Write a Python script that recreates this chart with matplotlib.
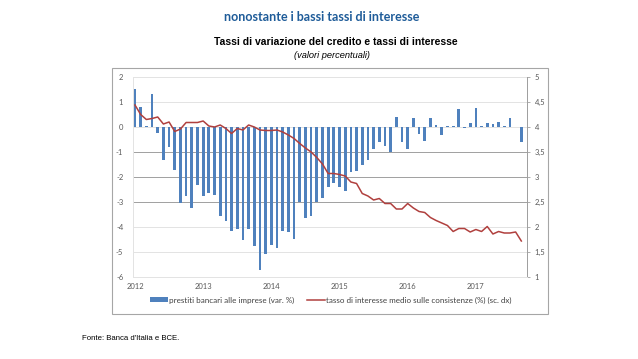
import matplotlib
matplotlib.use("Agg")
import matplotlib.pyplot as plt
from matplotlib.patches import Rectangle
import numpy as np

plt.rcParams['axes.unicode_minus'] = False

# dati mensili gen 2012 - set 2017
prestiti = [1.53, 0.82, 0.05, 1.33, -0.25, -1.3, -0.8, -1.73, -3.04, -2.74, -3.24, -2.3,
            -2.76, -2.62, -2.7, -3.56, -3.74, -4.17, -4.07, -4.5, -4.07, -4.77, -5.73, -5.06,
            -4.7, -4.83, -4.14, -4.2, -4.47, -3.0, -3.63, -3.55, -3.0, -2.83, -2.4, -2.25,
            -2.4, -2.57, -1.78, -1.77, -1.5, -1.3, -0.87, -0.61, -0.77, -1.0, 0.4, -0.58,
            -0.86, 0.36, -0.29, -0.54, 0.38, 0.09, -0.33, 0.03, 0.03, 0.72, -0.02, 0.16,
            0.75, 0.03, 0.16, 0.12, 0.2, 0.03, 0.36, 0.02, -0.58]
tasso = [4.44, 4.25, 4.15, 4.17, 4.2, 4.06, 4.1, 3.91, 3.96, 4.09, 4.09, 4.09,
         4.12, 4.02, 4.0, 4.04, 3.97, 3.87, 3.97, 3.94, 4.04, 4.0, 3.94, 3.93,
         3.93, 3.94, 3.9, 3.84, 3.77, 3.67, 3.58, 3.5, 3.39, 3.26, 3.07, 3.07,
         3.05, 3.02, 2.9, 2.87, 2.67, 2.62, 2.54, 2.57, 2.47, 2.47, 2.36, 2.36,
         2.47, 2.38, 2.31, 2.29, 2.19, 2.13, 2.08, 2.03, 1.91, 1.97, 1.97, 1.9,
         1.95, 1.91, 2.01, 1.86, 1.91, 1.88, 1.88, 1.9, 1.72]
anni = ['2012', '2013', '2014', '2015', '2016', '2017']
sx_ticks = [2, 1, 0, -1, -2, -3, -4, -5, -6]
dx_ticks = [5, 4.5, 4, 3.5, 3, 2.5, 2, 1.5, 1]

W, H = 638, 359
fig = plt.figure(figsize=(W / 100, H / 100), dpi=100)

# titoli
fig.text(322 / W, 1 - 17 / H, "nonostante i bassi tassi di interesse", ha='center', va='center',
         color='#1F5C99', fontsize=9.0, fontweight='bold', family='Lato')
fig.text(336 / W, 1 - 42 / H, "Tassi di variazione del credito e tassi di interesse", ha='center',
         va='center', fontsize=7.5, fontweight='bold', family='Liberation Sans')
fig.text(332 / W, 1 - 55 / H, "(valori percentuali)", ha='center', va='center',
         fontsize=6.7, style='italic', family='Liberation Sans')
fig.text(82 / W, 1 - 338 / H, "Fonte: Banca d'Italia e BCE.", ha='left', va='center',
         fontsize=5.6, family='Liberation Sans')

# cornice del grafico
fig.add_artist(Rectangle((112 / W, 1 - 314 / H), (548 - 112) / W, (314 - 68) / H,
                         transform=fig.transFigure, fill=False, ec='#A6A6A6', lw=0.8))

ax = fig.add_axes([133 / W, 1 - 277 / H, (527 - 133) / W, 200 / H])
ax2 = ax.twinx()

x = np.arange(len(prestiti))
ax.bar(x, prestiti, width=0.48, color='#4F81BD', label='prestiti bancari alle imprese (var. %)', zorder=2)
ax2.plot(x, tasso, color='#B0403E', lw=1.1,
         label='tasso di interesse medio sulle consistenze (%) (sc. dx)')

ax.set_xlim(-0.35, 69.0)
ax.set_ylim(-6, 2)
ax2.set_ylim(1, 5)

for t in sx_ticks:
    c = '#A0A0A0' if t in (-1, -2, -3) else '#E3E3E3'
    ax.axhline(t, color=c, lw=0.7, zorder=0)

ax.set_yticks(sx_ticks)
ax.set_yticklabels([str(t) for t in sx_ticks])
ax2.set_yticks(dx_ticks)
ax2.set_yticklabels([('%g' % t).replace('.', ',') for t in dx_ticks])
ax.set_xticks(np.arange(len(anni)) * 12)
ax.set_xticklabels(anni)

ax.tick_params(axis='y', length=0, pad=7, labelsize=5.5, labelcolor='#595959')
ax.tick_params(axis='x', length=0, pad=4, labelsize=5.5, labelcolor='#595959')
ax2.tick_params(axis='y', length=2.5, width=0.6, color='#A0A0A0', pad=3,
                labelsize=5.5, labelcolor='#595959')
for a in (ax, ax2):
    a.spines['top'].set_visible(False)
    a.spines['left'].set_color('#E3E3E3')
    a.spines['bottom'].set_color('#E3E3E3')
    a.spines['right'].set_color('#A0A0A0')
    for s in a.spines.values():
        s.set_linewidth(0.7)
for lbl in ax.get_xticklabels() + ax.get_yticklabels() + ax2.get_yticklabels():
    lbl.set_family('Lato')

h1, l1 = ax.get_legend_handles_labels()
h2, l2 = ax2.get_legend_handles_labels()
fig.legend(h1 + h2, l1 + l2, loc='center', bbox_to_anchor=(331 / W, 1 - 300 / H), ncol=2,
           frameon=False, prop={'family': 'Lato', 'size': 5.8}, handlelength=2.2,
           handleheight=0.5, handletextpad=0.15, columnspacing=1.6, labelcolor='#404040')

fig.savefig('out.png', dpi=100)
